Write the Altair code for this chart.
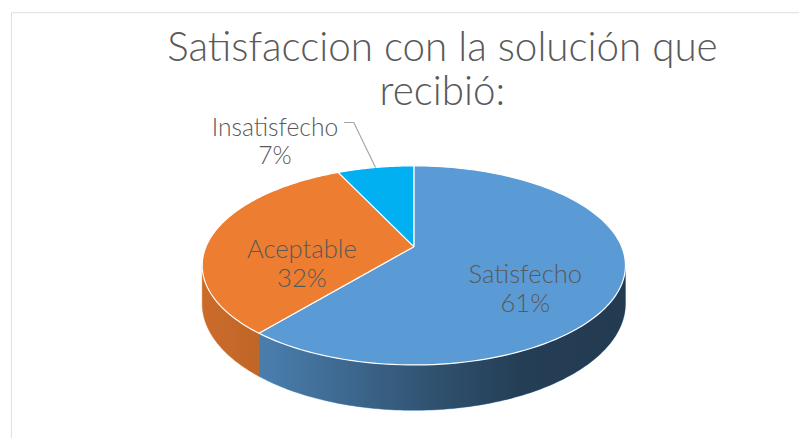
import altair as alt
import pandas as pd

# ---------------- data ----------------
categorias = ["Satisfecho", "Aceptable", "Insatisfecho"]
porcentajes = [61, 32, 7]
colores = ["#5B9BD5", "#ED7D31", "#00B0F0"]
titulo = ["Satisfaccion con la solución que", "recibió:"]

df = pd.DataFrame({"categoria": categorias, "valor": porcentajes,
                   "orden": list(range(len(categorias)))})

# ---------------- layout / style constants ----------------
W, H = 800, 434          # plot (view) size
CX, CY = 409, 238        # pie centre inside the view, px
R, RY = 211, 97.5        # horizontal / vertical radius, px
P = 0.188                # perspective factor
DEPTH = 37.4 / RY        # side thickness in y units
N = 120                  # arc resolution
FONT = "Lato"
TXT = "#595959"

xdom = [-CX / R, (W - CX) / R]
ydom = [-(H - CY) / RY, CY / RY]
X = alt.X("px:Q", scale=alt.Scale(domain=xdom), axis=None)
Y = alt.Y("py:Q", scale=alt.Scale(domain=ydom), axis=None)
COL = alt.Color("categoria:N", scale=alt.Scale(domain=categorias, range=colores),
                legend=None)
S = f"1/(1+{P}*datum.v)"

base = alt.Chart(df).transform_joinaggregate(
    total="sum(valor)"
).transform_window(
    cum="sum(valor)", sort=[alt.SortField("orden")], frame=[None, 0]
).transform_calculate(
    f0="(datum.cum - datum.valor)/datum.total",
    f1="datum.cum/datum.total",
    fm="(datum.cum - datum.valor/2)/datum.total",
    pct="format(datum.valor/datum.total, '.0%')",
)

# ---------- side (visible front band) ----------
side_data = base.transform_calculate(
    s0=f"max(2*PI*datum.f0, PI/2 + asin({P}))",
    s1=f"min(2*PI*datum.f1, 3*PI/2 - asin({P}))",
).transform_filter("datum.s1 > datum.s0").transform_calculate(
    k=f"sequence(0, {N + 1})"
).transform_flatten(["k"]).transform_calculate(
    a=f"datum.s0 + (datum.s1 - datum.s0)*datum.k/{N}",
    u="sin(datum.a)",
    v="cos(datum.a)",
    s=S,
    px="datum.u*datum.s",
    py="datum.v*datum.s",
    py2=f"datum.v*datum.s - {DEPTH}*datum.s",
)

side = side_data.mark_area(strokeWidth=0.6).encode(
    x=X, y=Y, y2="py2:Q", color=COL, stroke=COL
)

shade = side_data.mark_area(
    color=alt.Gradient(
        gradient="linear", x1=0, x2=1, y1=0, y2=0,
        stops=[
            alt.GradientStop(offset=0, color="rgba(0,0,0,0.14)"),
            alt.GradientStop(offset=0.16, color="rgba(0,0,0,0.20)"),
            alt.GradientStop(offset=0.55, color="rgba(0,0,0,0.48)"),
            alt.GradientStop(offset=0.75, color="rgba(0,0,0,0.60)"),
            alt.GradientStop(offset=1, color="rgba(0,0,0,0.62)"),
        ],
    )
).encode(x=X, y=Y, y2="py2:Q")

# ---------- top face wedges ----------
wedges = base.transform_calculate(
    k=f"sequence(0, {N + 3})"
).transform_flatten(["k"]).transform_calculate(
    t=f"clamp((datum.k - 1)/{N}, 0, 1)",
    a="2*PI*(datum.f0 + (datum.f1 - datum.f0)*datum.t)",
    r=f"(datum.k == 0 || datum.k == {N + 2}) ? 0 : 1",
    u="datum.r*sin(datum.a)",
    v="datum.r*cos(datum.a)",
    s=S,
    px="datum.u*datum.s",
    py="datum.v*datum.s",
).mark_line(filled=True, stroke="white", strokeWidth=1.2, strokeJoin="round").encode(
    x=X, y=Y, order="k:Q", color=COL
)

# ---------- inside labels ----------
labels_in = base.transform_filter("datum.valor/datum.total >= 0.1").transform_calculate(
    a="2*PI*datum.fm",
    u="0.55*sin(datum.a)",
    v="0.55*cos(datum.a)",
    s=S,
    px="datum.u*datum.s",
    py="datum.v*datum.s",
    lbl="datum.categoria + '\\n' + datum.pct",
).mark_text(font=FONT, fontSize=26, fontWeight=300, color=TXT, lineHeight=30,
            lineBreak="\n", align="center", baseline="middle", dy=10).encode(
    x=X, y=Y, text="lbl:N")

# ---------- outside label with leader ----------
small = base.transform_filter("datum.valor/datum.total < 0.1").transform_calculate(
    a="2*PI*datum.fm"
)
leader = small.transform_calculate(k="sequence(0, 3)").transform_flatten(["k"]).transform_calculate(
    r="datum.k == 0 ? 1 : 1.75",
    u="datum.r*sin(datum.a)",
    v="datum.r*cos(datum.a)",
    s=S,
    px=f"datum.u*datum.s - (datum.k == 2 ? {10 / R} : 0)",
    py="datum.v*datum.s",
).mark_line(color="#A6A6A6", strokeWidth=1.2).encode(x=X, y=Y, order="k:Q")

labels_out = small.transform_calculate(
    u="1.75*sin(datum.a)",
    v="1.75*cos(datum.a)",
    s=S,
    px="datum.u*datum.s",
    py="datum.v*datum.s",
    lbl="datum.categoria + '\\n' + datum.pct",
).mark_text(font=FONT, fontSize=25, fontWeight=300, color=TXT, lineHeight=28,
            lineBreak="\n", align="center", baseline="middle", dx=-80, dy=6).encode(
    x=X, y=Y, text="lbl:N")

chart = alt.layer(side, shade, wedges, leader, labels_in, labels_out).properties(
    width=W, height=H,
    padding={"left": 3, "top": 1, "right": 0, "bottom": 0},
    autosize=alt.AutoSizeParams(type="none"),
    title=alt.TitleParams(
        text=titulo, font=FONT, fontSize=41, fontWeight=300, color="#595959",
        anchor="middle", frame="group", baseline="top", offset=0, dy=103, dx=38,
        lineHeight=45,
    ),
).configure_view(stroke="#D9D9D9", strokeWidth=2).configure(background="white")

chart.save("out.html", embed_options={"renderer": "svg", "actions": False})
